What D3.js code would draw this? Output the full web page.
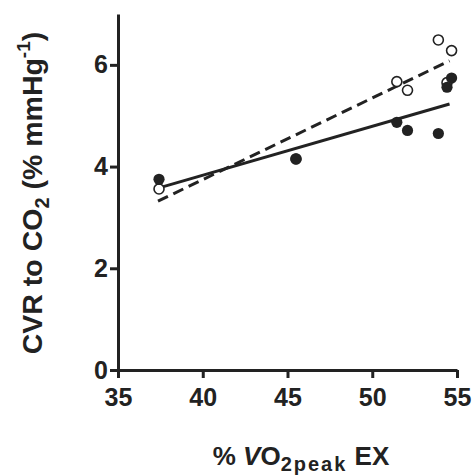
<!DOCTYPE html>
<html>
<head>
<meta charset="utf-8">
<script src="https://cdn.jsdelivr.net/npm/d3@7"></script>
<style>
body { margin: 0; background: #fff; }
svg { display: block; }
.axis text { font-family: "Liberation Sans", Arial, sans-serif; font-weight: bold; font-size: 25px; fill: #222; }
.axis line, .axis path { stroke: #222; stroke-width: 3; }
.title { font-family: "Liberation Sans", Arial, sans-serif; font-weight: bold; fill: #222; }
</style>
</head>
<body>
<div id="chart"></div>
<script>
// filled circles (solid fit)
var filledX = [37.42, 45.5, 51.45, 52.08, 53.9, 54.41, 54.68];
var filledY = [3.75, 4.15, 4.87, 4.71, 4.65, 5.56, 5.74];
// open circles (dashed fit)
var openX = [37.42, 45.5, 51.45, 52.08, 53.9, 54.41, 54.68];
var openY = [3.56, 4.15, 5.67, 5.50, 6.49, 5.65, 6.28];
// fit lines, endpoints
var solidFit = [[37.42, 3.58], [54.56, 5.23]];
var dashedFit = [[37.36, 3.32], [54.56, 6.08]];

var xTicks = [35, 40, 45, 50, 55];
var yTicks = [0, 2, 4, 6];

var width = 473, height = 476;
var margin = {top: 14, right: 16, bottom: 106, left: 118};
var ink = '#222';

var svg = d3.select('#chart').append('svg')
    .attr('width', width)
    .attr('height', height);

var x = d3.scaleLinear().domain([35, 55]).range([margin.left, width - margin.right]);
var y = d3.scaleLinear().domain([0, 7]).range([height - margin.bottom, margin.top]);

svg.append('g')
    .attr('class', 'axis')
    .attr('transform', 'translate(0,' + y(0) + ')')
    .call(d3.axisBottom(x).tickValues(xTicks).tickFormat(d3.format('d'))
        .tickSize(8).tickSizeOuter(0).tickPadding(10));

svg.append('g')
    .attr('class', 'axis')
    .attr('transform', 'translate(' + x(35) + ',0)')
    .call(d3.axisLeft(y).tickValues(yTicks).tickFormat(d3.format('d'))
        .tickSize(8).tickSizeOuter(0).tickPadding(2));

// fit lines
var line = d3.line()
    .x(function(d) { return x(d[0]); })
    .y(function(d) { return y(d[1]); });

svg.append('path')
    .datum(dashedFit)
    .attr('d', line)
    .attr('fill', 'none')
    .attr('stroke', ink)
    .attr('stroke-width', 3)
    .attr('stroke-dasharray', '11,6');

svg.append('path')
    .datum(solidFit)
    .attr('d', line)
    .attr('fill', 'none')
    .attr('stroke', ink)
    .attr('stroke-width', 3);

// points
svg.append('g').selectAll('circle')
    .data(d3.range(openX.length))
    .enter().append('circle')
    .attr('cx', function(i) { return x(openX[i]); })
    .attr('cy', function(i) { return y(openY[i]); })
    .attr('r', 5)
    .attr('fill', '#fff')
    .attr('stroke', ink)
    .attr('stroke-width', 1.6);

svg.append('g').selectAll('circle')
    .data(d3.range(filledX.length))
    .enter().append('circle')
    .attr('cx', function(i) { return x(filledX[i]); })
    .attr('cy', function(i) { return y(filledY[i]); })
    .attr('r', 5.6)
    .attr('fill', ink);

// x title
var xt = svg.append('text')
    .attr('class', 'title')
    .attr('x', 301)
    .attr('y', 465)
    .attr('text-anchor', 'middle')
    .style('font-size', '26px');
xt.append('tspan').text('% ');
xt.append('tspan').style('font-style', 'italic').text('V');
xt.append('tspan').text('O');
xt.append('tspan').attr('dy', 6).style('font-size', '20px').style('letter-spacing', '2px').text('2peak');
xt.append('tspan').attr('dy', -6).text(' EX');

// y title
var yt = svg.append('text')
    .attr('class', 'title')
    .attr('transform', 'translate(42,193) rotate(-90)')
    .attr('text-anchor', 'middle')
    .style('font-size', '28.5px');
yt.append('tspan').text('CVR to CO');
yt.append('tspan').attr('dy', 7).style('font-size', '20px').text('2');
yt.append('tspan').attr('dy', -7).text(' (% mmHg');
yt.append('tspan').attr('dy', -12).style('font-size', '19px').text('-1');
yt.append('tspan').attr('dy', 12).text(')');
</script>
</body>
</html>
